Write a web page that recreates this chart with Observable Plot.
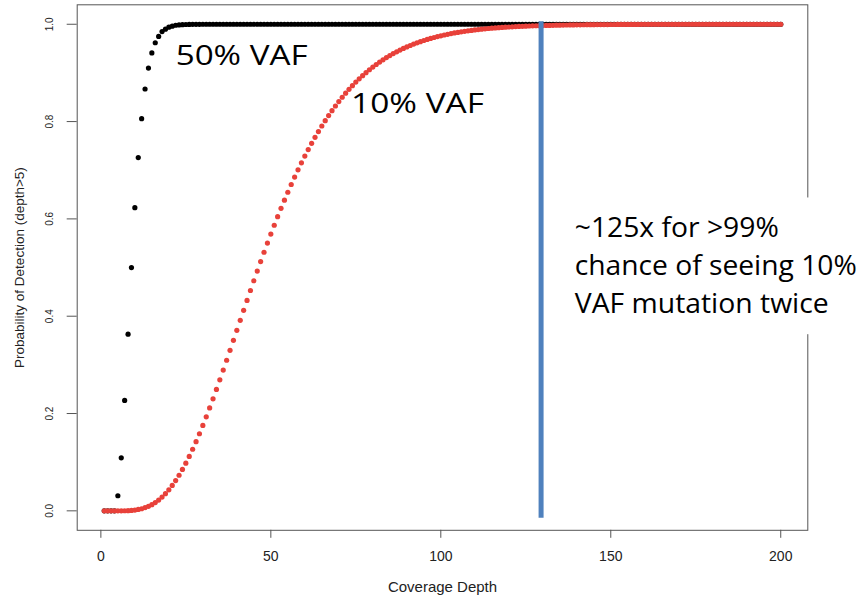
<!DOCTYPE html>
<html>
<head>
<meta charset="utf-8">
<script src="https://cdn.jsdelivr.net/npm/d3@7"></script>
<script src="https://cdn.jsdelivr.net/npm/@observablehq/plot@0.6"></script>
<style>
  html, body { margin: 0; padding: 0; background: #fff; }
  #chart svg { display: block; }
</style>
</head>
<body>
<div id="chart"></div>
<script>
// ---- data ----
const depth = d3.range(1, 201); // coverage depth 1..200

// 50% VAF series (black)
const vaf50 = [
  0, 0, 0, 0, 0.031, 0.109, 0.227, 0.363, 0.5, 0.623,
  0.726, 0.806, 0.867, 0.910, 0.941, 0.962, 0.975, 0.985, 0.990, 0.994,
  0.996, 0.998, 0.9987, 0.9992, 0.9995, 0.9997, 0.9998, 0.9999, 0.9999, 1,
  1, 1, 1, 1, 1, 1, 1, 1, 1, 1,
  1, 1, 1, 1, 1, 1, 1, 1, 1, 1,
  1, 1, 1, 1, 1, 1, 1, 1, 1, 1,
  1, 1, 1, 1, 1, 1, 1, 1, 1, 1,
  1, 1, 1, 1, 1, 1, 1, 1, 1, 1,
  1, 1, 1, 1, 1, 1, 1, 1, 1, 1,
  1, 1, 1, 1, 1, 1, 1, 1, 1, 1,
  1, 1, 1, 1, 1, 1, 1, 1, 1, 1,
  1, 1, 1, 1, 1, 1, 1, 1, 1, 1,
  1, 1, 1, 1, 1, 1, 1, 1, 1, 1,
  1, 1, 1, 1, 1, 1, 1, 1, 1, 1,
  1, 1, 1, 1, 1, 1, 1, 1, 1, 1,
  1, 1, 1, 1, 1, 1, 1, 1, 1, 1,
  1, 1, 1, 1, 1, 1, 1, 1, 1, 1,
  1, 1, 1, 1, 1, 1, 1, 1, 1, 1,
  1, 1, 1, 1, 1, 1, 1, 1, 1, 1,
  1, 1, 1, 1, 1, 1, 1, 1, 1, 1
];

// 10% VAF series (red)
const vaf10 = [
  0, 0, 0, 0, 0, 0.0001, 0.0002, 0.0004, 0.0009, 0.0016,
  0.0028, 0.0043, 0.0065, 0.0092, 0.0127, 0.0170, 0.0221, 0.0282, 0.0352, 0.0432,
  0.0522, 0.0621, 0.0731, 0.0851, 0.0980, 0.1118, 0.1266, 0.1421, 0.1584, 0.1755,
  0.1932, 0.2115, 0.2303, 0.2496, 0.2692, 0.2892, 0.3095, 0.3299, 0.3504, 0.3710,
  0.3916, 0.4121, 0.4325, 0.4528, 0.4729, 0.4927, 0.5122, 0.5314, 0.5503, 0.5688,
  0.5869, 0.6046, 0.6218, 0.6385, 0.6548, 0.6707, 0.6860, 0.7008, 0.7152, 0.7290,
  0.7424, 0.7553, 0.7676, 0.7795, 0.7909, 0.8019, 0.8124, 0.8224, 0.8320, 0.8412,
  0.8500, 0.8583, 0.8663, 0.8738, 0.8811, 0.8879, 0.8944, 0.9006, 0.9065, 0.9120,
  0.9173, 0.9223, 0.9270, 0.9315, 0.9357, 0.9397, 0.9434, 0.9470, 0.9503, 0.9535,
  0.9564, 0.9592, 0.9618, 0.9643, 0.9666, 0.9688, 0.9709, 0.9728, 0.9746, 0.9763,
  0.9779, 0.9794, 0.9808, 0.9821, 0.9833, 0.9844, 0.9855, 0.9865, 0.9874, 0.9883,
  0.9891, 0.9899, 0.9906, 0.9913, 0.9919, 0.9924, 0.9930, 0.9935, 0.9940, 0.9944,
  0.9948, 0.9952, 0.9955, 0.9958, 0.9961, 0.9964, 0.9967, 0.9969, 0.9972, 0.9974,
  0.9976, 0.9977, 0.9979, 0.9981, 0.9982, 0.9983, 0.9985, 0.9986, 0.9987, 0.9988,
  0.9989, 0.9990, 0.9991, 0.9992, 0.9992, 0.9993, 0.9993, 0.9994, 0.9994, 0.9995,
  0.9995, 0.9996, 0.9996, 0.9996, 0.9997, 0.9997, 0.9997, 0.9997, 0.9998, 0.9998,
  0.9998, 0.9998, 0.9998, 0.9999, 0.9999, 0.9999, 0.9999, 0.9999, 0.9999, 0.9999,
  1, 1, 1, 1, 1, 1, 1, 1, 1, 1,
  1, 1, 1, 1, 1, 1, 1, 1, 1, 1,
  1, 1, 1, 1, 1, 1, 1, 1, 1, 1
];

const xTicks = [0, 50, 100, 150, 200];
const yTicks = [0, 0.2, 0.4, 0.6, 0.8, 1.0];
const xLabel = "Coverage Depth";
const yLabel = "Probability of Detection (depth>5)";

// in-plot labels
const seriesLabels = ["50% VAF", "10% VAF"];
const seriesLabelX = [22.0, 73.6];
const seriesLabelY = [0.9166, 0.8179];

// annotation
const thresholdDepth = [129.5];
const noteLines = ["~125x for >99%", "chance of seeing 10%", "VAF mutation twice"];
const noteY = [0.5623, 0.4857, 0.4061];
const noteX = 139.4;
const noteBox = [{x1: 138, x2: 235, y1: 0.362, y2: 0.643}];

// ---- build ----
const black = depth.map((d, i) => ({depth: d, p: vaf50[i]}));
const red = depth.map((d, i) => ({depth: d, p: vaf10[i]}));

const annoFont = "'Open Sans', 'Noto Sans', sans-serif";

const chart = Plot.plot({
  width: 865,
  height: 596,
  marginLeft: 76.7,
  marginRight: 57.7,
  marginTop: 4.3,
  marginBottom: 66.2,
  x: {domain: [-6.96, 207.96]},
  y: {domain: [-0.04, 1.04]},
  style: {fontFamily: "'Liberation Sans', Arial, Helvetica, sans-serif", background: "#fff", color: "#222"},
  marks: [
    Plot.axisX({ticks: xTicks, tickSize: 8, tickPadding: 13, fontSize: 14, stroke: "#555", label: null}),
    Plot.axisY({ticks: yTicks, tickSize: 10, tickFormat: () => "", stroke: "#555", label: null}),
    Plot.text(yTicks, {y: d => d, text: d => d.toFixed(1), frameAnchor: "left", dx: -27, rotate: -90,
      fontSize: 10, lineAnchor: "middle", textAnchor: "middle", fill: "#222"}),
    Plot.text([yLabel], {text: d => d, frameAnchor: "left", dx: -58, rotate: -90, fontSize: 13.5,
      lineAnchor: "middle", textAnchor: "middle", fill: "#222"}),
    Plot.text([xLabel], {text: d => d, frameAnchor: "bottom", dy: 51.5, fontSize: 15,
      lineAnchor: "top", textAnchor: "middle", fill: "#222"}),
    Plot.frame({stroke: "#555", strokeWidth: 1}),
    Plot.dot(black, {x: "depth", y: "p", r: 2.6, fill: "#000", stroke: null}),
    Plot.dot(red, {x: "depth", y: "p", r: 2.6, fill: "#e8413a", stroke: null}),
    Plot.ruleX(thresholdDepth, {x: d => d, y1: -0.015, y2: 1.005, stroke: "#4f81bd", strokeWidth: 5}),
    Plot.rect(noteBox, {x1: "x1", x2: "x2", y1: "y1", y2: "y2", fill: "#fff", stroke: null}),
    Plot.text(seriesLabels, {x: (d, i) => seriesLabelX[i], y: (d, i) => seriesLabelY[i], text: d => d,
      textAnchor: "start", lineAnchor: "bottom", fontSize: 28, fontFamily: annoFont, fill: "#000"}),
    Plot.text(noteLines, {x: () => noteX, y: (d, i) => noteY[i], text: d => d,
      textAnchor: "start", lineAnchor: "bottom", fontSize: 28, fontFamily: annoFont, fill: "#000"})
  ]
});

// stretch the slide labels to the widths seen in the picture
const labelWidths = {"50% VAF": 132, "10% VAF": 133, "~125x for >99%": 204, "chance of seeing 10%": 282, "VAF mutation twice": 254};
chart.querySelectorAll("text").forEach(t => {
  const w = labelWidths[t.textContent];
  if (w) { t.setAttribute("textLength", w); t.setAttribute("lengthAdjust", "spacingAndGlyphs"); }
});

document.getElementById("chart").appendChild(chart);
</script>
</body>
</html>
